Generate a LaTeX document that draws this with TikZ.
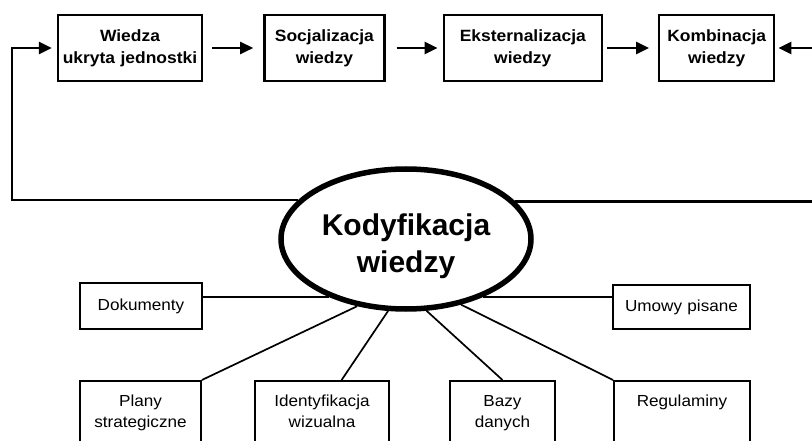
\documentclass[tikz,border=0pt]{standalone}
\usepackage{fontspec}
\setmainfont{Liberation Sans}
\newfontfamily\szeroki[FakeStretch=1.07]{Liberation Sans}
\usetikzlibrary{arrows.meta,positioning,shapes.geometric}

\begin{document}
\begin{tikzpicture}[x=1pt, y=-1pt, node distance=57pt,
    every node/.style={align=center},
    etap/.style={rectangle, draw, line width=2.4pt, minimum height=66pt, inner sep=2pt, font=\szeroki\bfseries\fontsize{16.3}{22}\selectfont},
    forma/.style={rectangle, draw, line width=1.8pt, inner xsep=4pt, font=\szeroki\fontsize{16}{20.5}\selectfont},
    dolna/.style={forma, anchor=north, inner ysep=10pt, text height=16pt, text depth=70pt},
    kodyf/.style={ellipse, draw, line width=5.5pt, fill=white, minimum width=250pt, minimum height=140pt, inner sep=0pt, text height=74pt, font=\bfseries\fontsize{30}{37}\selectfont},
    strz/.style={line width=2.6pt, -{Triangle[length=13pt,width=12pt]}},
    linia/.style={line width=1.7pt}]
    \useasboundingbox (0,0) rectangle (812,441);
    \clip (0,0) rectangle (812,441);

    % etapy
    \node (wie) [etap, text width=140pt] at (130,48) {Wiedza\\ukryta jednostki};
    \node (soc) [etap, text width=116pt, right=60pt of wie] {Socjalizacja\\wiedzy};
    \node (eks) [etap, text width=154pt, right=of soc] {Eksternalizacja\\wiedzy};
    \node (kom) [etap, text width=111pt, right=55pt of eks] {Kombinacja\\wiedzy};

    \draw[strz, shorten <=9pt, shorten >=10pt] (wie) -- (soc);
    \draw[strz, shorten <=11pt, shorten >=5pt] (soc) -- (eks);
    \draw[strz, shorten <=4pt, shorten >=9pt] (eks) -- (kom);

    \coordinate (zwrot) at (12,48);
    \coordinate (wejscie) at (812,48);
    \coordinate (prawy) at (812,202);

    \node (kod) [kodyf] at (406,239) {Kodyfikacja\\wiedzy};

    \draw[strz, shorten >=5pt] (kod.160) -| (zwrot) -- (wie.west);
    \draw[line width=2.6pt] (kod.19) -- (kod.19 -| prawy);
    \draw[strz, shorten >=3pt] (wejscie) -- (kom.east);

    % formy kodyfikacji
    \node (dok) [forma, text width=114pt, minimum height=46pt] at (141,306) {Dokumenty};
    \node (umo) [forma, text width=129pt, minimum height=44pt] at (681.5,307) {Umowy pisane};
    \node (pla) [dolna, text width=113pt] at (140.5,380) {Plany\\strategiczne};
    \node (ide) [dolna, text width=126pt] at (322,380) {Identyfikacja\\wizualna};
    \node (baz) [dolna, text width=97pt] at (502.5,380) {Bazy\\danych};
    \node (reg) [dolna, text width=128pt] at (682,380) {Regulaminy};

    \draw[linia] (kod.217) -- (kod.217 -| dok.east);
    \draw[linia] (kod.323) -- (kod.323 -| umo.west);
    \draw[linia] (kod.234) -- (pla.north east);
    \draw[linia] (kod.256) -- (ide.70);
    \draw[linia] (kod.286) -- (baz.north);
    \draw[linia] (kod.310) -- (reg.north west);
\end{tikzpicture}
\end{document}
